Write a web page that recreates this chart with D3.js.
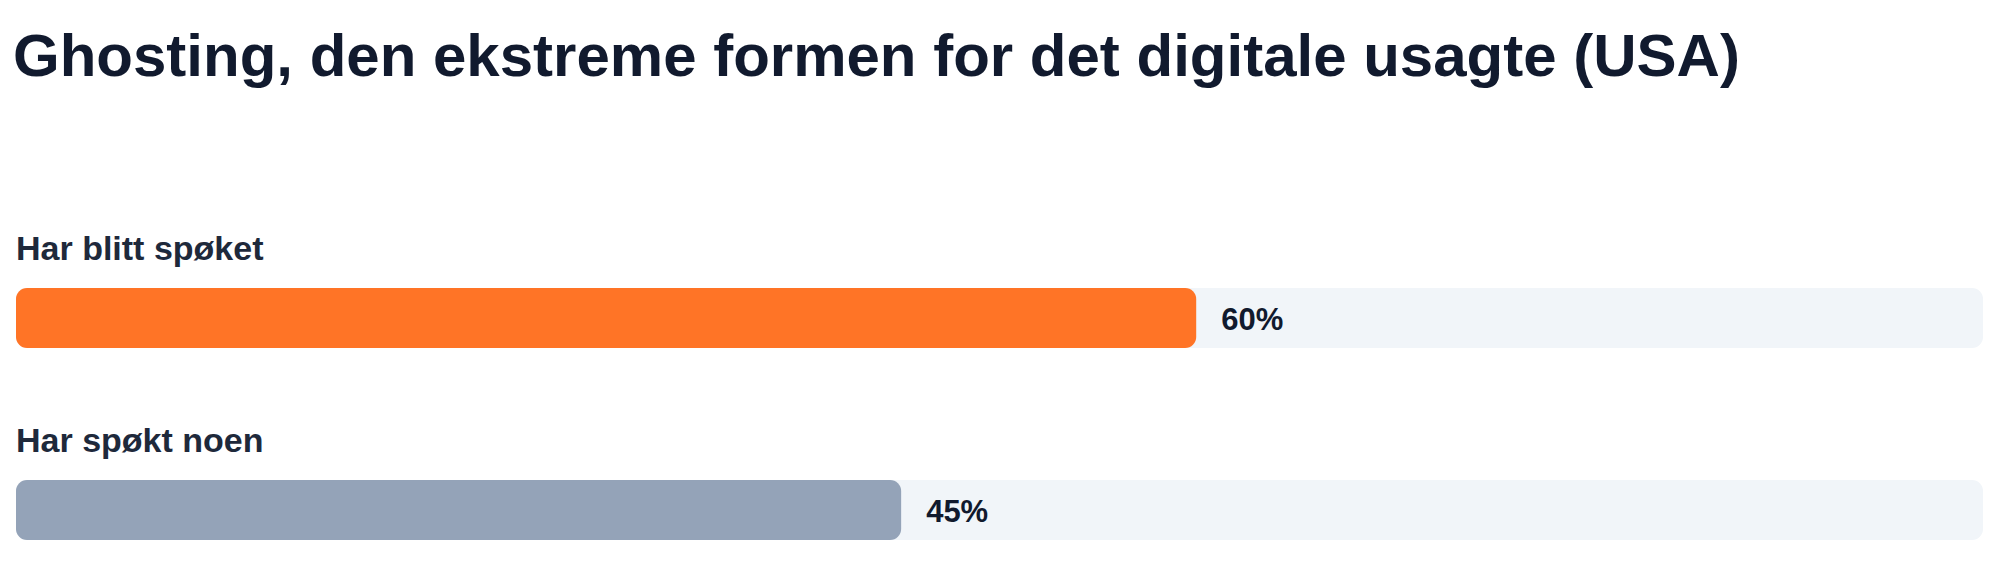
<!DOCTYPE html>
<html>
<head>
<meta charset="utf-8">
<script src="https://cdn.jsdelivr.net/npm/d3@7"></script>
<style>
  html, body { margin: 0; padding: 0; background: #fff; }
  svg { display: block; font-family: "Liberation Sans", Arial, sans-serif; }
</style>
</head>
<body>
<svg id="chart"></svg>
<script>
const width = 2000;
const height = 588;

const title = 'Ghosting, den ekstreme formen for det digitale usagte (USA)';
const categories = ['Har blitt spøket', 'Har spøkt noen'];
const values = [60, 45];
const colors = ['#FF7426', '#94A3B8'];

const margin = { left: 16, right: 17 };

const svg = d3.select('#chart')
    .attr('width', width)
    .attr('height', height);

svg.append('text')
    .attr('x', 13)
    .attr('y', 76)
    .attr('font-size', 60)
    .attr('font-weight', 'bold')
    .attr('fill', '#111A2E')
    .text(title);

// x
const x = d3.scaleLinear()
    .domain([0, 100])
    .range([margin.left, width - margin.right]);

// y (top of each bar)
const y = d3.scalePoint()
    .domain(categories)
    .range([288, 480]);

const barH = 60;

const rows = svg.selectAll('g.row')
    .data(categories)
    .join('g')
    .attr('class', 'row');

// track
rows.append('rect')
    .attr('x', x(0))
    .attr('y', d => y(d))
    .attr('width', x(100) - x(0))
    .attr('height', barH)
    .attr('rx', 11)
    .attr('fill', '#F1F5F9');

// bar
rows.append('rect')
    .attr('x', x(0))
    .attr('y', d => y(d))
    .attr('width', (d, i) => x(values[i]) - x(0))
    .attr('height', barH)
    .attr('rx', 11)
    .attr('fill', (d, i) => colors[i]);

// category label
rows.append('text')
    .attr('x', 16)
    .attr('y', d => y(d) - 28)
    .attr('font-size', 34)
    .attr('font-weight', 'bold')
    .attr('fill', '#1E293B')
    .text(d => d);

// value label
rows.append('text')
    .attr('x', (d, i) => x(values[i]) + 25)
    .attr('y', d => y(d) + 42)
    .attr('font-size', 31)
    .attr('font-weight', 'bold')
    .attr('fill', '#111A2E')
    .text((d, i) => values[i] + '%');
</script>
</body>
</html>
